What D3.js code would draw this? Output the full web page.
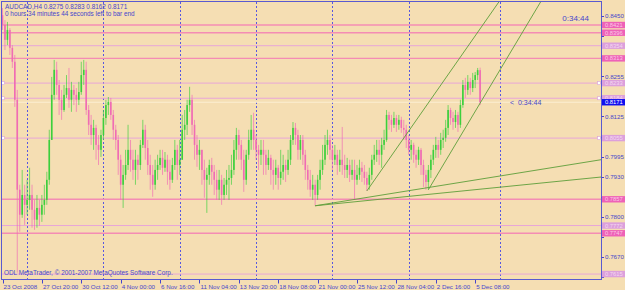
<!DOCTYPE html>
<html>
<head>
    <meta charset="utf-8">
    <title>AUDCAD,H4</title>
    <script src="https://d3js.org/d3.v7.min.js"></script>
    <style>
        body { margin: 0; background: #f5deb3; }
        svg text { font-family: "Liberation Sans", Arial, sans-serif; }
    </style>
</head>
<body>
<div id="chart"></div>
<script>
    // H4 bars, open of each bar = close of the bar before
    var firstOpen = 0.8453;
    var closes = [
        0.8421, 0.8373, 0.8405, 0.8347, 0.8302, 0.8179, 0.7888, 0.7807, 0.7871, 0.7839,
        0.7855, 0.7871, 0.7823, 0.7791, 0.7829, 0.7807, 0.7839, 0.7855, 0.7920, 0.8049,
        0.8195, 0.8276, 0.8227, 0.8179, 0.8146, 0.8195, 0.8217, 0.8179, 0.8211, 0.8195,
        0.8179, 0.8204, 0.8259, 0.8276, 0.8146, 0.8098, 0.8065, 0.8088, 0.8033, 0.8017,
        0.8065, 0.8120, 0.8162, 0.8172, 0.8130, 0.8082, 0.8049, 0.7985, 0.7904, 0.7936,
        0.7968, 0.8017, 0.7985, 0.7952, 0.7985, 0.7968, 0.8033, 0.8082, 0.8023, 0.7968,
        0.7936, 0.7904, 0.7952, 0.7968, 0.7991, 0.7959, 0.7985, 0.7946, 0.7920, 0.7968,
        0.8017, 0.7968, 0.7985, 0.8082, 0.8098, 0.8162, 0.8179, 0.8098, 0.8033, 0.8001,
        0.8017, 0.7952, 0.7920, 0.7936, 0.7968, 0.7946, 0.7920, 0.7888, 0.7920, 0.7871,
        0.7904, 0.7920, 0.7926, 0.7952, 0.8017, 0.8065, 0.8033, 0.7985, 0.7920, 0.8001,
        0.8049, 0.8082, 0.8049, 0.8017, 0.8001, 0.8017, 0.8001, 0.7968, 0.7991, 0.7952,
        0.7936, 0.7959, 0.7926, 0.7946, 0.7968, 0.7952, 0.7985, 0.8049, 0.8088, 0.8065,
        0.8017, 0.8049, 0.8001, 0.7952, 0.7920, 0.7888, 0.7904, 0.7871, 0.7920, 0.7952,
        0.7985, 0.8033, 0.8049, 0.8017, 0.7985, 0.8001, 0.7968, 0.7985, 0.7968, 0.7952,
        0.7968, 0.7936, 0.7952, 0.7920, 0.7936, 0.7959, 0.7946, 0.7926, 0.7904, 0.7936,
        0.7985, 0.8001, 0.8017, 0.8001, 0.8033, 0.8049, 0.8130, 0.8114, 0.8098, 0.8120,
        0.8098, 0.8114, 0.8088, 0.8082, 0.8049, 0.8017, 0.8033, 0.8001, 0.7985, 0.8017,
        0.7968, 0.7936, 0.7913, 0.7952, 0.7985, 0.8017, 0.8033, 0.8017, 0.8049, 0.8056,
        0.8088, 0.8146, 0.8120, 0.8107, 0.8130, 0.8098, 0.8162, 0.8227, 0.8211, 0.8237,
        0.8217, 0.8243, 0.8259, 0.8275, 0.8171
    ];
    var highs = [
        0.8476, 0.8437, 0.8431, 0.8411, 0.8356, 0.8324, 0.8211, 0.7904, 0.7952, 0.7904,
        0.7920, 0.7959, 0.7904, 0.7855, 0.7871, 0.7855, 0.7871, 0.7904, 0.7946, 0.8082,
        0.8253, 0.8308, 0.8302, 0.8243, 0.8211, 0.8227, 0.8259, 0.8282, 0.8237, 0.8227,
        0.8217, 0.8237, 0.8302, 0.8308, 0.8302, 0.8162, 0.8130, 0.8114, 0.8098, 0.8065,
        0.8082, 0.8146, 0.8179, 0.8188, 0.8185, 0.8146, 0.8098, 0.8065, 0.8001, 0.7968,
        0.8017, 0.8098, 0.8049, 0.8017, 0.8017, 0.8001, 0.8049, 0.8114, 0.8098, 0.8049,
        0.8001, 0.7968, 0.7985, 0.8001, 0.8017, 0.8017, 0.8010, 0.8001, 0.7985, 0.7991,
        0.8049, 0.8033, 0.8049, 0.8130, 0.8146, 0.8179, 0.8221, 0.8195, 0.8114, 0.8065,
        0.8049, 0.8017, 0.7985, 0.7959, 0.7985, 0.7991, 0.7968, 0.7952, 0.7952, 0.7936,
        0.7926, 0.7952, 0.7968, 0.8001, 0.8049, 0.8088, 0.8082, 0.8049, 0.8017, 0.8017,
        0.8082, 0.8130, 0.8137, 0.8065, 0.8033, 0.8049, 0.8049, 0.8017, 0.8017, 0.8001,
        0.7985, 0.7985, 0.7968, 0.8017, 0.8001, 0.7985, 0.8017, 0.8065, 0.8107, 0.8104,
        0.8082, 0.8065, 0.8065, 0.8017, 0.7968, 0.7952, 0.7936, 0.7920, 0.7936, 0.7985,
        0.8033, 0.8065, 0.8082, 0.8065, 0.8033, 0.8033, 0.8017, 0.8017, 0.8091, 0.8001,
        0.7991, 0.7985, 0.7985, 0.7985, 0.7968, 0.7985, 0.7978, 0.7968, 0.7946, 0.7959,
        0.8001, 0.8033, 0.8049, 0.8049, 0.8056, 0.8082, 0.8146, 0.8140, 0.8130, 0.8140,
        0.8130, 0.8130, 0.8124, 0.8114, 0.8098, 0.8065, 0.8049, 0.8040, 0.8017, 0.8027,
        0.8023, 0.7985, 0.7952, 0.7968, 0.8001, 0.8033, 0.8059, 0.8049, 0.8072, 0.8082,
        0.8114, 0.8162, 0.8153, 0.8140, 0.8146, 0.8140, 0.8179, 0.8243, 0.8250, 0.8259,
        0.8250, 0.8266, 0.8269, 0.8282, 0.8283
    ];
    var lows = [
        0.8405, 0.8340, 0.8356, 0.8324, 0.8282, 0.8156, 0.7620, 0.7752, 0.7797, 0.7774,
        0.7807, 0.7823, 0.7765, 0.7758, 0.7765, 0.7771, 0.7784, 0.7807, 0.7839, 0.7904,
        0.8049, 0.8179, 0.8195, 0.8130, 0.8114, 0.8140, 0.8185, 0.8153, 0.8140, 0.8162,
        0.8140, 0.8162, 0.8195, 0.8227, 0.8130, 0.8065, 0.8033, 0.8017, 0.7985, 0.7968,
        0.7994, 0.8049, 0.8098, 0.8130, 0.8114, 0.8049, 0.8017, 0.7936, 0.7855, 0.7829,
        0.7920, 0.7952, 0.7946, 0.7920, 0.7904, 0.7920, 0.7952, 0.8023, 0.7985, 0.7936,
        0.7888, 0.7865, 0.7888, 0.7920, 0.7952, 0.7936, 0.7946, 0.7904, 0.7888, 0.7910,
        0.7952, 0.7920, 0.7936, 0.7985, 0.8049, 0.8065, 0.8140, 0.8065, 0.7985, 0.7962,
        0.7952, 0.7904, 0.7862, 0.7813, 0.7904, 0.7904, 0.7871, 0.7855, 0.7855, 0.7839,
        0.7855, 0.7871, 0.7855, 0.7904, 0.7936, 0.7985, 0.7985, 0.7952, 0.7881, 0.7904,
        0.7985, 0.8017, 0.8017, 0.7985, 0.7952, 0.7968, 0.7936, 0.7936, 0.7952, 0.7904,
        0.7888, 0.7904, 0.7888, 0.7904, 0.7920, 0.7913, 0.7936, 0.7968, 0.8033, 0.8033,
        0.7985, 0.7985, 0.7968, 0.7920, 0.7888, 0.7865, 0.7855, 0.7836, 0.7855, 0.7888,
        0.7936, 0.7968, 0.8001, 0.7985, 0.7952, 0.7968, 0.7936, 0.7946, 0.7936, 0.7926,
        0.7926, 0.7913, 0.7920, 0.7855, 0.7904, 0.7920, 0.7913, 0.7904, 0.7884, 0.7888,
        0.7920, 0.7968, 0.7978, 0.7968, 0.7959, 0.8017, 0.8043, 0.8082, 0.8075, 0.8088,
        0.8075, 0.8082, 0.8072, 0.8049, 0.8023, 0.8001, 0.7985, 0.7975, 0.7959, 0.7968,
        0.7936, 0.7897, 0.7888, 0.7888, 0.7926, 0.7968, 0.7991, 0.7991, 0.8001, 0.8023,
        0.8043, 0.8065, 0.8098, 0.8082, 0.8088, 0.8075, 0.8088, 0.8153, 0.8185, 0.8195,
        0.8195, 0.8204, 0.8217, 0.8243, 0.8162
    ];

    // time axis: bar index of each label
    var timeTickBars = [0, 16, 32, 48, 64, 80, 96, 112, 128, 144, 160, 176, 192];
    var timeTickLabels = ["23 Oct 2008", "27 Oct 20:00", "30 Oct 12:00", "4 Nov 00:00", "6 Nov 16:00",
        "11 Nov 04:00", "13 Nov 20:00", "18 Nov 08:00", "21 Nov 00:00", "25 Nov 12:00",
        "28 Nov 04:00", "2 Dec 16:00", "5 Dec 08:00"];
    var separatorBars = [10, 41, 72, 103, 134, 165, 202];

    // price axis
    var priceTicks = [0.7605, 0.7670, 0.7735, 0.7800, 0.7865, 0.7930, 0.7995, 0.8060,
        0.8125, 0.8190, 0.8255, 0.8320, 0.8385, 0.8450];

    // horizontal levels
    var strongLevels = [0.8421, 0.8396, 0.8313, 0.7857, 0.7747];
    var lightLevels = [0.8354, 0.8233, 0.8184, 0.8055, 0.7772, 0.7615];
    var bid = 0.8171;

    // trend lines: [bar1, price1, bar2, price2], drawn as rays
    var trendLines = [
        [148, 0.7884, 201.3, 0.8492],
        [173, 0.7888, 218.3, 0.8492],
        [127, 0.7836, 243.1, 0.7985],
        [127, 0.7836, 243.1, 0.7929]
    ];

    var W = 625, H = 290;
    var blue = "#4646cc";

    var svg = d3.select("#chart").append("svg")
        .attr("width", W)
        .attr("height", H);

    svg.append("rect").attr("width", W).attr("height", H).attr("fill", "#f5deb3");

    var x = d3.scaleLinear().domain([0, 194]).range([2.5, 480.1]);
    var y = d3.scaleLinear().domain([0.7599, 0.8489]).range([279, 4]);

    svg.append("clipPath").attr("id", "plot")
        .append("rect").attr("x", 2).attr("y", 2).attr("width", 599).attr("height", 277);

    var plot = svg.append("g").attr("clip-path", "url(#plot)");

    // period separators
    plot.selectAll(".sep")
        .data(separatorBars)
        .enter()
        .append("line")
        .attr("x1", function(d) { return Math.round(x(d)) + 0.5; })
        .attr("x2", function(d) { return Math.round(x(d)) + 0.5; })
        .attr("y1", 2)
        .attr("y2", 279)
        .attr("stroke", "#5858e0")
        .attr("stroke-dasharray", "2,2");

    // level lines
    plot.selectAll(".lvl-light")
        .data(lightLevels)
        .enter()
        .append("line")
        .attr("x1", 2).attr("x2", 601)
        .attr("y1", function(d) { return y(d); })
        .attr("y2", function(d) { return y(d); })
        .attr("stroke", "#e8a6d8")
        .attr("stroke-width", 1);

    plot.selectAll(".lvl-strong")
        .data(strongLevels)
        .enter()
        .append("line")
        .attr("x1", 2).attr("x2", 601)
        .attr("y1", function(d) { return y(d); })
        .attr("y2", function(d) { return y(d); })
        .attr("stroke", "#f48cb4")
        .attr("stroke-width", 1.4);

    // small anchors on the light lines
    [3, 599].forEach(function(px) {
        plot.selectAll(null)
            .data(lightLevels.slice(1, 4))
            .enter()
            .append("rect")
            .attr("x", px - 1.5)
            .attr("y", function(d) { return y(d) - 1.5; })
            .attr("width", 3).attr("height", 3)
            .attr("fill", "#fff").attr("stroke", "#d8a0d8").attr("stroke-width", 0.6);
    });

    // bid line
    plot.append("line")
        .attr("x1", 2).attr("x2", 601)
        .attr("y1", y(bid)).attr("y2", y(bid))
        .attr("stroke", "#fbeed2")
        .attr("stroke-width", 1.2);

    // candles
    var bars = closes.map(function(c, i) {
        return { i: i, o: i === 0 ? firstOpen : closes[i - 1], h: highs[i], l: lows[i], c: c };
    });

    var candle = plot.selectAll(".candle")
        .data(bars)
        .enter()
        .append("g")
        .attr("class", "candle");

    function col(d) { return d.c >= d.o ? "#3ccf3c" : "#f06cb4"; }

    candle.append("line")
        .attr("x1", function(d) { return x(d.i); })
        .attr("x2", function(d) { return x(d.i); })
        .attr("y1", function(d) { return y(d.h); })
        .attr("y2", function(d) { return y(d.l); })
        .attr("stroke", col)
        .attr("stroke-opacity", 0.75)
        .attr("stroke-width", 0.9);

    candle.append("rect")
        .attr("x", function(d) { return x(d.i) - 0.8; })
        .attr("y", function(d) { return y(Math.max(d.o, d.c)); })
        .attr("width", 1.6)
        .attr("height", function(d) { return Math.max(1, Math.abs(y(d.o) - y(d.c))); })
        .attr("fill", col);

    // trend lines
    plot.selectAll(".trend")
        .data(trendLines)
        .enter()
        .append("line")
        .attr("x1", function(d) { return x(d[0]); })
        .attr("y1", function(d) { return y(d[1]); })
        .attr("x2", function(d) { return x(d[0] + (d[2] - d[0]) * 4); })
        .attr("y2", function(d) { return y(d[1] + (d[3] - d[1]) * 4); })
        .attr("stroke", "#5e9e3a")
        .attr("stroke-width", 0.9);

    // frame
    svg.append("rect")
        .attr("x", 1.5).attr("y", 1.5)
        .attr("width", 600).attr("height", 278)
        .attr("fill", "none")
        .attr("stroke", "#5a5ad0");

    // price axis; tick labels hidden under a level label are left out
    var allLevels = strongLevels.concat(lightLevels, [bid]);
    var freeTicks = priceTicks.filter(function(t) {
        return allLevels.every(function(l) { return Math.abs(y(l) - y(t)) > 6.5; });
    });

    var yAxis = svg.append("g");
    yAxis.selectAll(".tick")
        .data(priceTicks)
        .enter()
        .append("line")
        .attr("x1", 601.5).attr("x2", 604)
        .attr("y1", function(d) { return Math.round(y(d)) + 0.5; })
        .attr("y2", function(d) { return Math.round(y(d)) + 0.5; })
        .attr("stroke", blue);
    yAxis.selectAll(".lab")
        .data(freeTicks)
        .enter()
        .append("text")
        .attr("x", 605)
        .attr("y", function(d) { return y(d) + 2.2; })
        .attr("font-size", "6.2px")
        .attr("fill", blue)
        .text(function(d) { return d.toFixed(4); });

    function levelLabels(data, bg, fg) {
        var g = yAxis.selectAll(null).data(data).enter().append("g");
        g.append("rect")
            .attr("x", 602)
            .attr("y", function(d) { return y(d) - 3.2; })
            .attr("width", 23).attr("height", 6.4)
            .attr("fill", bg);
        g.append("text")
            .attr("x", 605)
            .attr("y", function(d) { return y(d) + 2; })
            .attr("font-size", "5.8px")
            .attr("fill", fg)
            .text(function(d) { return d.toFixed(4); });
    }
    levelLabels(lightLevels, "#dca0dc", "#f4d8f0");
    levelLabels(strongLevels, "#ee62b8", "#fbc8e4");
    levelLabels([bid], "#1010f0", "#ffffff");

    // time axis
    var xAxis = svg.append("g");
    xAxis.selectAll(".tick")
        .data(timeTickBars)
        .enter()
        .append("line")
        .attr("x1", function(d) { return Math.round(x(d)) + 0.5; })
        .attr("x2", function(d) { return Math.round(x(d)) + 0.5; })
        .attr("y1", 280).attr("y2", 283.5)
        .attr("stroke", blue);
    xAxis.selectAll(".lab")
        .data(timeTickBars)
        .enter()
        .append("text")
        .attr("x", function(d) { return x(d) + 1; })
        .attr("y", 288.5)
        .attr("font-size", "6.2px")
        .attr("fill", blue)
        .text(function(d, i) { return timeTickLabels[i]; });

    // texts
    svg.append("text").attr("x", 5).attr("y", 9)
        .attr("font-size", "6.4px").attr("fill", blue)
        .text("AUDCAD,H4  0.8275 0.8283 0.8162 0.8171");
    svg.append("text").attr("x", 5).attr("y", 16)
        .attr("font-size", "6.4px").attr("fill", blue)
        .text("0 hours 34 minutes 44 seconds left to bar end");
    svg.append("text").attr("x", 4).attr("y", 275)
        .attr("font-size", "6.4px").attr("fill", blue)
        .text("ODL MetaTrader, \u00a9 2001-2007 MetaQuotes Software Corp.");
    svg.append("text").attr("x", 589).attr("y", 21)
        .attr("text-anchor", "end")
        .attr("font-size", "8px").attr("fill", blue)
        .text("0:34:44");
    svg.append("text").attr("x", 510).attr("y", y(bid) + 2.5)
        .attr("font-size", "7px").attr("fill", blue)
        .attr("xml:space", "preserve")
        .text("<  0:34:44");
</script>
</body>
</html>
